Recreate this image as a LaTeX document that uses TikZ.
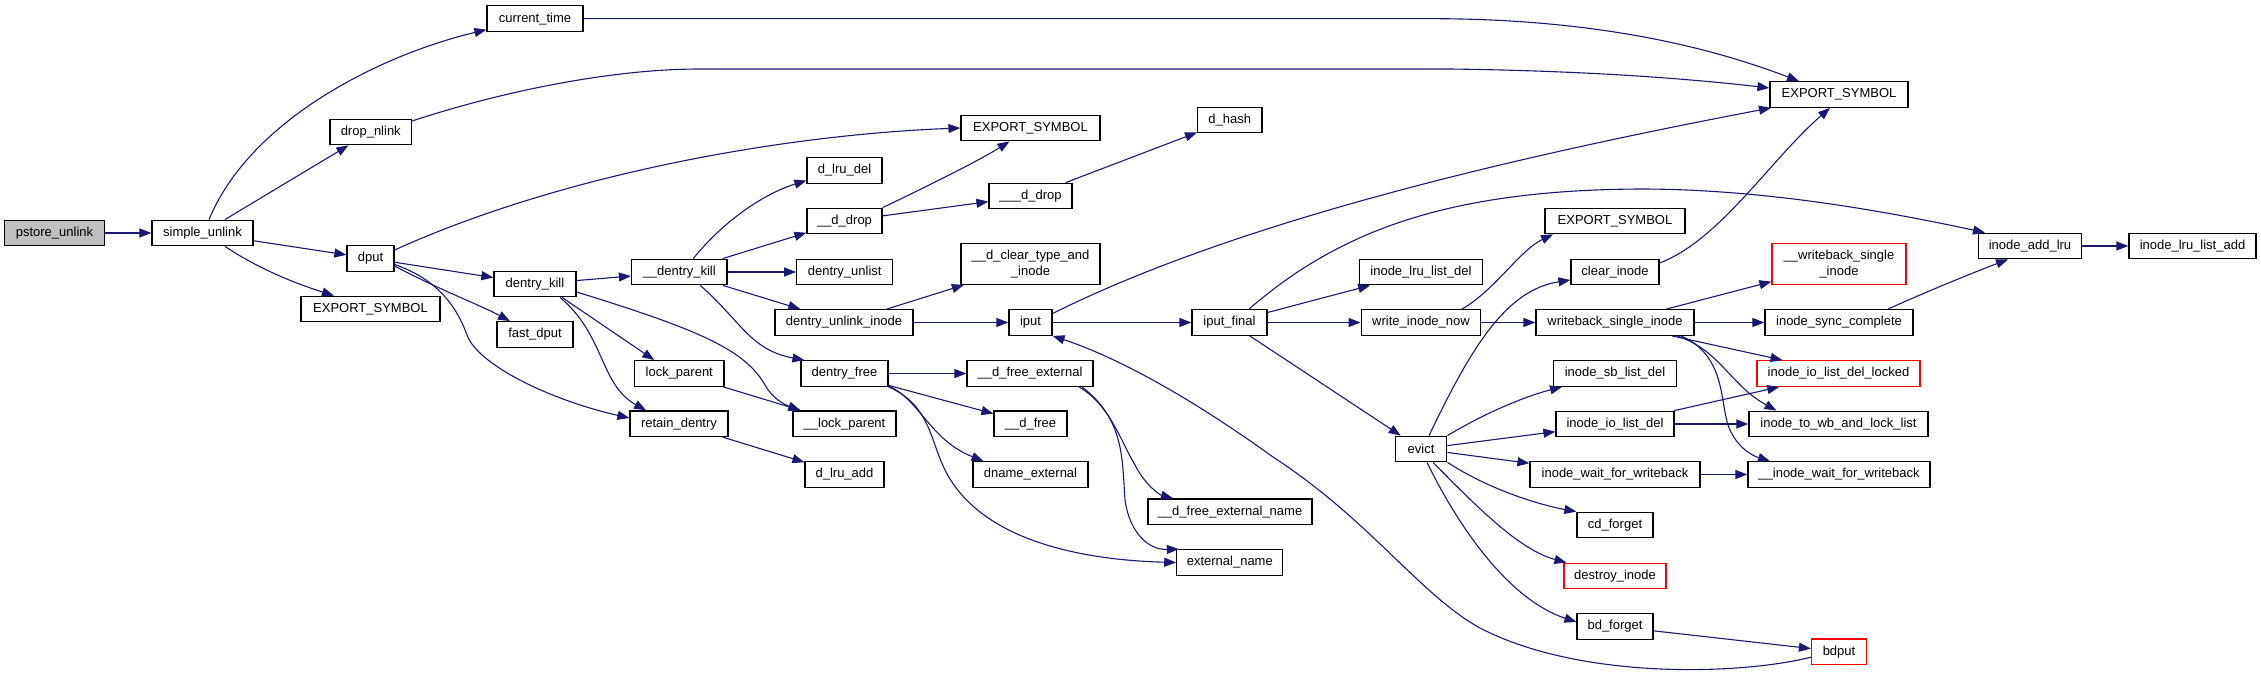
\documentclass[tikz,border=0pt]{standalone}
\usepackage{fontspec}
\setmainfont{Liberation Sans}
\usetikzlibrary{arrows.meta}
\definecolor{edgeblue}{HTML}{191970}
\definecolor{nodered}{HTML}{FF0000}
\definecolor{rootgray}{HTML}{BFBFBF}
\begin{document}
\begin{tikzpicture}[x=1pt,y=-1pt,
  box/.style={draw=black, line width=1.2pt, fill=white, minimum height=25.6pt, inner sep=0pt, font=\fontsize{13}{15}\selectfont, anchor=center},
  tall/.style={box, minimum height=40.6pt, align=center, font=\fontsize{13}{15.5}\selectfont},
  redbox/.style={draw=nodered},
  root/.style={fill=rootgray},
  call/.style={draw=edgeblue, line width=1.1pt, -{Triangle[length=12pt,width=9pt]}}
]
\useasboundingbox (0,0) rectangle (2261,677);

\node[box,root,minimum width=99.4pt] (pstore) at (54.5,233) {pstore\_unlink};
\node[box,minimum width=101pt] (simple) at (202.5,233) {simple\_unlink};
\node[box,minimum width=96pt] (ct) at (535,18.7) {current\_time};
\node[box,minimum width=81.5pt] (drop) at (370.75,132) {drop\_nlink};
\node[box,minimum width=47pt] (dput) at (370.5,258.5) {dput};
\node[box,minimum width=139pt] (eA) at (370.5,309) {EXPORT\_SYMBOL};
\node[box,minimum width=82pt] (dk) at (535,284) {dentry\_kill};
\node[box,minimum width=95.5pt] (udk) at (679.25,272) {\_\_dentry\_kill};
\node[box,minimum width=76pt] (fd) at (535,334.5) {fast\_dput};
\node[box,minimum width=89.5pt] (lp) at (679.25,373.5) {lock\_parent};
\node[box,minimum width=98pt] (rd) at (679,423.7) {retain\_dentry};
\node[box,minimum width=139pt] (eB) at (1030.5,128) {EXPORT\_SYMBOL};
\node[box,minimum width=64.4pt] (dhash) at (1229.8,120) {d\_hash};
\node[box,minimum width=75pt] (dld) at (844.5,170.5) {d\_lru\_del};
\node[box,minimum width=75pt] (ddrop) at (844.5,221) {\_\_d\_drop};
\node[box,minimum width=83pt] (tdrop) at (1030.5,196) {\_\_\_d\_drop};
\node[box,minimum width=96pt] (dul) at (844.7,272) {dentry\_unlist};
\node[tall,minimum width=139pt] (dclr) at (1030.5,264) {\_\_d\_clear\_type\_and\\\_inode};
\node[box,minimum width=138pt] (dui) at (844,322.5) {dentry\_unlink\_inode};
\node[box,minimum width=43pt] (iput) at (1030.5,322.5) {iput};
\node[box,minimum width=75pt] (ifin) at (1229.5,322.5) {iput\_final};
\node[box,minimum width=123pt] (ild) at (1421,272) {inode\_lru\_list\_del};
\node[box,minimum width=119.6pt] (win) at (1421,322.5) {write\_inode\_now};
\node[box,minimum width=87pt] (dfree) at (844.5,373.5) {dentry\_free};
\node[box,minimum width=126pt] (dfe) at (1030,373.5) {\_\_d\_free\_external};
\node[box,minimum width=103pt] (ulp) at (844.5,423.7) {\_\_lock\_parent};
\node[box,minimum width=73pt] (dfr) at (1030.5,423.7) {\_\_d\_free};
\node[box,minimum width=79pt] (dla) at (844.5,474.5) {d\_lru\_add};
\node[box,minimum width=115pt] (dne) at (1030.5,474.5) {dname\_external};
\node[box,minimum width=164pt] (dfen) at (1230,511.7) {\_\_d\_free\_external\_name};
\node[box,minimum width=106pt] (extn) at (1229.8,562.5) {external\_name};
\node[box,minimum width=51.7pt] (evict) at (1421,449) {evict};
\node[box,minimum width=138pt] (eC) at (1839,94.5) {EXPORT\_SYMBOL};
\node[box,minimum width=140pt] (eD) at (1615,221) {EXPORT\_SYMBOL};
\node[box,minimum width=88pt] (cin) at (1615,272) {clear\_inode};
\node[tall,redbox,minimum width=134pt] (wbs) at (1839,264) {\_\_writeback\_single\\\_inode};
\node[box,minimum width=103pt] (ial) at (2030,246) {inode\_add\_lru};
\node[box,minimum width=127pt] (illa) at (2192.5,246) {inode\_lru\_list\_add};
\node[box,minimum width=158pt] (wsi) at (1615,322.5) {writeback\_single\_inode};
\node[box,minimum width=148pt] (isc) at (1839,322.5) {inode\_sync\_complete};
\node[box,minimum width=123pt] (isld) at (1615,373.5) {inode\_sb\_list\_del};
\node[box,redbox,minimum width=163pt] (iidl) at (1838.5,373.5) {inode\_io\_list\_del\_locked};
\node[box,minimum width=118pt] (iild) at (1615,424) {inode\_io\_list\_del};
\node[box,minimum width=179pt] (itwb) at (1838.5,424) {inode\_to\_wb\_and\_lock\_list};
\node[box,minimum width=170pt] (iwfw) at (1615,474.5) {inode\_wait\_for\_writeback};
\node[box,minimum width=182pt] (uiwfw) at (1839,474.5) {\_\_inode\_wait\_for\_writeback};
\node[box,minimum width=76pt] (cdf) at (1615,525) {cd\_forget};
\node[box,redbox,minimum width=102pt] (dino) at (1615,576) {destroy\_inode};
\node[box,minimum width=76pt] (bdf) at (1615,626.5) {bd\_forget};
\node[box,redbox,minimum width=55pt] (bdput) at (1839,651.7) {bdput};

% connectors
\draw[call] (pstore.east) -- (simple.west);
\draw[call] ([xshift=6.5pt]simple.north) .. controls (250,120) and (380,55) .. ([yshift=-11pt]ct.west);
\draw[call] (simple) -- (drop);
\draw[call] (simple) -- (dput);
\draw[call] ([xshift=22.5pt]simple.south) .. controls (260,270) and (300,285) .. ([xshift=-36.5pt]eA.north);
\draw[call] (ct.east) -- (1440,18.7) .. controls (1620,20) and (1730,55) .. ([xshift=-40pt]eC.north);
\draw[call] ([yshift=11pt]drop.east) .. controls (500,92) and (610,69) .. (700,69) -- (1450,69) .. controls (1600,71) and (1700,80) .. ([yshift=6.5pt]eC.west);
\draw[call] ([yshift=8.5pt]dput.east) .. controls (560,175) and (780,135) .. (eB.west);
\draw[call] (dput) -- (dk);
\draw[call] ([yshift=-7.5pt]dput.east) .. controls (440,290) and (480,305) .. ([xshift=-25pt]fd.north);
\draw[call] ([yshift=-6pt]dput.east) .. controls (440,280) and (458,310) .. (467,335) .. controls (478,365) and (550,400) .. ([yshift=5.7pt]rd.west);
\draw[call] (dk) -- (udk);
\draw[call] ([xshift=27pt]dk.south) -- ([xshift=-25pt]lp.north);
\draw[call] ([xshift=25pt]dk.south) .. controls (605,335) and (600,385) .. ([xshift=-33pt]rd.north);
\draw[call] ([yshift=-8pt]dk.east) .. controls (700,330) and (745,350) .. (765,385) .. controls (772,398) and (785,405) .. ([xshift=-44pt]ulp.north);
\draw[call] ([xshift=14pt]udk.north) .. controls (720,225) and (760,195) .. ([yshift=-10pt]dld.west);
\draw[call] (udk) -- (ddrop);
\draw[call] (udk) -- (dul);
\draw[call] (udk) -- (dui);
\draw[call] ([xshift=21pt]udk.south) .. controls (740,320) and (750,350) .. ([xshift=4pt]dfree.north west);
\draw[call] (lp) -- (ulp);
\draw[call] (rd) -- (dla);
\draw[call] (ddrop.north east) .. controls (930,185) and (980,160) .. ([xshift=-21pt]eB.south);
\draw[call] (ddrop) -- (tdrop);
\draw[call] (tdrop) -- (dhash);
\draw[call] (dui) -- (dclr);
\draw[call] (dui) -- (iput);
\draw[call] ([yshift=9pt]iput.east) .. controls (1250,215) and (1550,150) .. ([xshift=-68pt]eC.south);
\draw[call] (iput) -- (ifin);
\draw[call] ([xshift=19.5pt]ifin.north) .. controls (1340,230) and (1450,190) .. (1640,189) .. controls (1760,189) and (1880,210) .. ([xshift=-45pt]ial.north);
\draw[call] (ifin) -- (ild);
\draw[call] (ifin) -- (win);
\draw[call] (ifin) -- (evict);
\draw[call] ([xshift=41pt]win.north) .. controls (1495,290) and (1520,250) .. ([xshift=-62pt]eD.south);
\draw[call] (win) -- (wsi);
\draw[call] (wsi) -- (wbs);
\draw[call] (wsi) -- (isc);
\draw[call] ([xshift=57pt]wsi.south) -- ([xshift=-56pt]iidl.north);
\draw[call] ([xshift=62pt]wsi.south) .. controls (1720,350) and (1730,385) .. ([xshift=-62pt]itwb.north);
\draw[call] ([xshift=66pt]wsi.south) .. controls (1725,355) and (1720,400) .. (1728,425) .. controls (1735,445) and (1750,455) .. ([xshift=-69pt]uiwfw.north);
\draw[call] ([xshift=49pt]isc.north) .. controls (1930,290) and (1980,270) .. ([xshift=-22pt]ial.south);
\draw[call] (ial) -- (illa);
\draw[call] ([yshift=9pt]cin.east) .. controls (1720,240) and (1770,160) .. ([xshift=-9pt]eC.south);
\draw[call] ([xshift=8pt]evict.north) .. controls (1470,350) and (1505,290) .. ([yshift=-8pt]cin.west);
\draw[call] (evict.north east) .. controls (1490,410) and (1530,395) .. ([xshift=-53pt]isld.south);
\draw[call] (evict) -- (iild);
\draw[call] (evict) -- (iwfw);
\draw[call] (evict.south east) .. controls (1490,490) and (1540,505) .. (cdf.north west);
\draw[call] ([xshift=12pt]evict.south) .. controls (1480,510) and (1520,550) .. ([xshift=3pt]dino.north west);
\draw[call] ([xshift=6pt]evict.south) .. controls (1460,530) and (1510,600) .. ([yshift=4.5pt]bdf.west);
\draw[call] (bdf) -- (bdput);
\draw[call] ([yshift=-5.5pt]bdput.west) .. controls (1740,675) and (1580,680) .. (1480,628) .. controls (1420,595) and (1370,520) .. (1273,457) .. controls (1180,390) and (1110,355) .. (iput.south east);
\draw[call] (iild) -- (iidl);
\draw[call] (iild) -- (itwb);
\draw[call] (iwfw) -- (uiwfw);
\draw[call] (dfree) -- (dfe);
\draw[call] (dfree) -- (dfr);
\draw[call] ([yshift=-12.5pt]dfree.east) .. controls (920,400) and (930,440) .. ([xshift=-47pt]dne.north);
\draw[call] (dfree.south east) .. controls (930,405) and (930,440) .. (945,470) .. controls (980,540) and (1080,560) .. (extn.west);
\draw[call] ([xshift=49pt]dfe.south) .. controls (1110,405) and (1120,440) .. (1135,465) .. controls (1145,485) and (1160,495) .. ([xshift=-57pt]dfen.north);
\draw[call] ([xshift=52pt]dfe.south) .. controls (1125,420) and (1122,460) .. (1125,500) .. controls (1130,535) and (1150,550) .. ([xshift=-51pt]extn.north);
\end{tikzpicture}
\end{document}
